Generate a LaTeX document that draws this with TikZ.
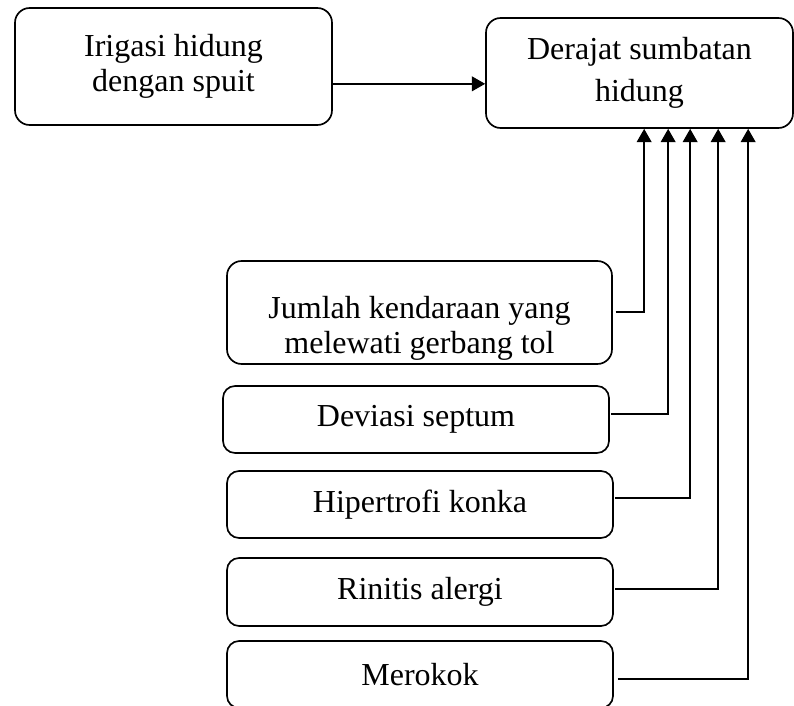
\documentclass[tikz,border=0pt]{standalone}
\usepackage{fontspec}
\setmainfont{Liberation Serif}
\usetikzlibrary{arrows.meta,positioning,calc}

\begin{document}
\begin{tikzpicture}[x=0.75pt, y=-0.75pt,
    box/.style={draw, rounded corners=9pt, line width=1.25pt, inner sep=0pt, align=center, font=\fontsize{24}{26}\selectfont, minimum width=289.5pt, minimum height=50.25pt},
    arr/.style={-{Triangle[length=10pt,width=11pt]}, line width=1.5pt, black},
]
\useasboundingbox (0,0) rectangle (794,706);

% Top: intervention and outcome
\node[box, minimum width=237.75pt, minimum height=87.75pt, rounded corners=11pt] (irigasi) at (173.5,66.5) {Irigasi hidung\\dengan spuit};
\node[box, minimum width=230.25pt, minimum height=82.5pt, rounded corners=11pt, font=\fontsize{24}{31}\selectfont] (derajat) at (639.5,73) {Derajat sumbatan\\hidung};

% Bottom: confounding factors
\node[box, minimum width=288.75pt, minimum height=77.25pt, rounded corners=11pt] (jumlah) at (419.5,312.5) {\rule{0pt}{40pt}Jumlah kendaraan yang\\melewati gerbang tol};
\node[box] (deviasi) at (416,419.5) {Deviasi septum};
\node[box] (hipertrofi) at (420,504.5) {Hipertrofi konka};
\node[box, minimum height=51pt] (rinitis) at (420,592) {Rinitis alergi};
\node[box] (merokok) at (420,674.5) {Merokok};

% Arrows
\draw[arr] ([yshift=-13pt]irigasi.east) -- ([yshift=-13pt]irigasi.east -| derajat.west);
\draw[arr] ([xshift=2pt]jumlah.east) -| ($(derajat.south west)+(159,0)$);
\draw[arr] ([xshift=1pt,yshift=4pt]deviasi.east) -| ($(derajat.south west)+(183,0)$);
\draw[arr] ([xshift=1pt,yshift=4.9pt]hipertrofi.east) -| ($(derajat.south west)+(205,0)$);
\draw[arr] ([xshift=1pt,yshift=2.2pt]rinitis.east) -| ($(derajat.south west)+(233,0)$);
\draw[arr] ([xshift=3pt,yshift=-3.4pt]merokok.east) -| ($(derajat.south west)+(263,0)$);
\end{tikzpicture}
\end{document}
